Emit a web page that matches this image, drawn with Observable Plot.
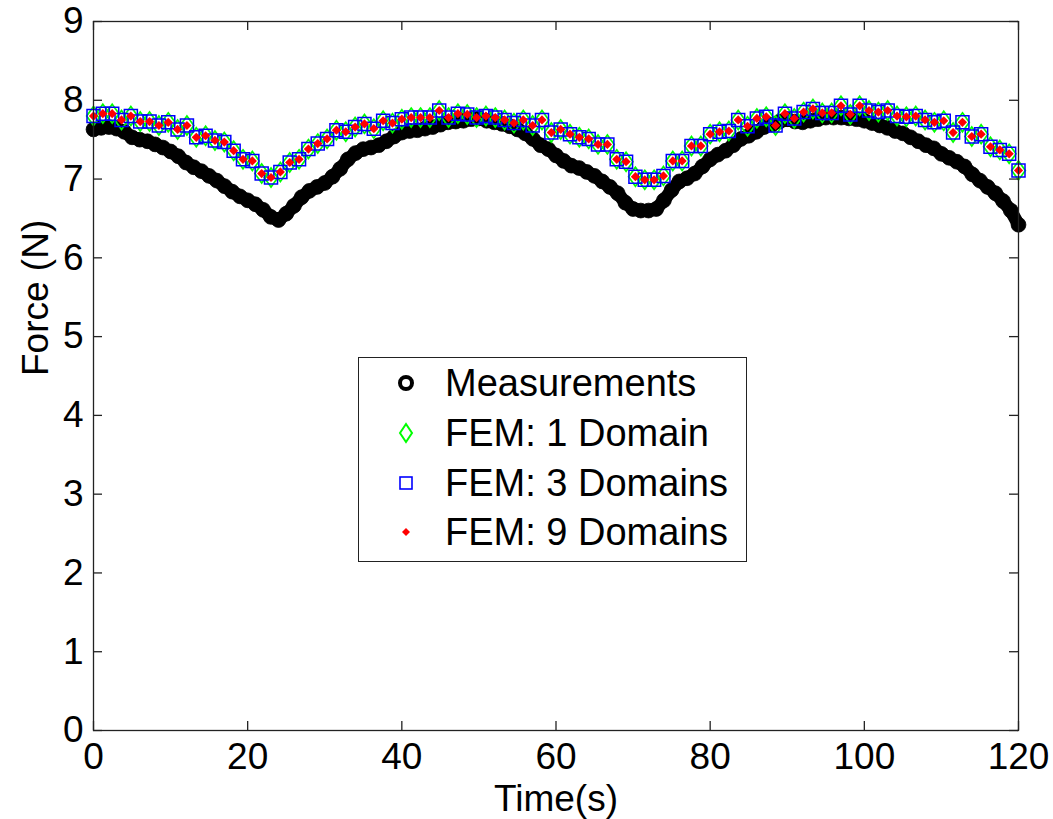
<!DOCTYPE html>
<html>
<head>
<meta charset="utf-8">
<script src="https://cdn.jsdelivr.net/npm/d3@7"></script>
<script src="https://cdn.jsdelivr.net/npm/@observablehq/plot@0.6"></script>
<style>
  html, body { margin: 0; padding: 0; background: #fff; }
  #wrap { position: relative; width: 1053px; height: 819px; font-family: "Liberation Sans", Arial, sans-serif; }
  #legend { position: absolute; left: 358px; top: 357px; width: 389px; height: 205px; box-sizing: border-box;
            border: 1.3px solid #222; background: #fff; }
  .row { position: absolute; left: 0; height: 44px; line-height: 44px; font-size: 38px; color: #000; white-space: nowrap; }
  .row svg { position: absolute; left: 32px; top: 7px; }
  .row span { position: absolute; left: 86px; top: 0; }
</style>
</head>
<body>
<div id="wrap"><div id="chart"></div><div id="legend"></div></div>
<script>
// ---- data ----
const xTicks = [0, 20, 40, 60, 80, 100, 120];
const yTicks = [0, 1, 2, 3, 4, 5, 6, 7, 8, 9];

// Measurements, one reading per second, t = 0..120 s
const measTime = d3.range(0, 121);
const measForce = [
  7.63, 7.65, 7.66, 7.64, 7.60, 7.53, 7.50, 7.48, 7.44, 7.40,
  7.35, 7.29, 7.21, 7.15, 7.10, 7.04, 6.98, 6.91, 6.84, 6.78,
  6.73, 6.68, 6.61, 6.52, 6.48, 6.56, 6.66, 6.77, 6.85, 6.90,
  6.95, 7.03, 7.13, 7.25, 7.33, 7.38, 7.40, 7.43, 7.48, 7.54,
  7.59, 7.61, 7.62, 7.64, 7.66, 7.69, 7.72, 7.73, 7.74, 7.76,
  7.77, 7.74, 7.72, 7.70, 7.67, 7.63, 7.58, 7.51, 7.43, 7.38,
  7.30, 7.23, 7.17, 7.14, 7.09, 7.04, 6.97, 6.90, 6.82, 6.70,
  6.62, 6.60, 6.60, 6.62, 6.73, 6.86, 6.97, 7.01, 7.07, 7.16,
  7.25, 7.31, 7.36, 7.43, 7.51, 7.55, 7.60, 7.66, 7.69, 7.73,
  7.76, 7.73, 7.72, 7.74, 7.76, 7.78, 7.78, 7.78, 7.77, 7.76,
  7.74, 7.71, 7.68, 7.65, 7.61, 7.58, 7.53, 7.48, 7.43, 7.39,
  7.32, 7.27, 7.22, 7.16, 7.06, 6.98, 6.90, 6.82, 6.72, 6.60,
  6.42
];

// FEM results: 100 samples spread over 0..120 s
const femCount = 100;
const femTime = d3.range(femCount).map(i => i * 120 / (femCount - 1));
const femForce1 = [
  7.80, 7.83, 7.83, 7.75, 7.80, 7.73, 7.73, 7.68, 7.72, 7.63,
  7.68, 7.53, 7.55, 7.49, 7.47, 7.36, 7.25, 7.23, 7.07, 7.02,
  7.09, 7.21, 7.25, 7.38, 7.45, 7.51, 7.62, 7.60, 7.66, 7.70,
  7.64, 7.74, 7.71, 7.76, 7.78, 7.78, 7.78, 7.87, 7.78, 7.83,
  7.82, 7.78, 7.80, 7.78, 7.75, 7.71, 7.75, 7.68, 7.75, 7.59,
  7.63, 7.57, 7.53, 7.51, 7.44, 7.44, 7.25, 7.22, 7.03, 6.99,
  6.99, 7.04, 7.23, 7.23, 7.42, 7.42, 7.57, 7.60, 7.61, 7.75,
  7.67, 7.77, 7.79, 7.68, 7.83, 7.77, 7.85, 7.89, 7.84, 7.84,
  7.93, 7.82, 7.93, 7.87, 7.85, 7.87, 7.80, 7.79, 7.80, 7.75,
  7.72, 7.74, 7.59, 7.72, 7.54, 7.57, 7.41, 7.37, 7.32, 7.11
];
const femForce3 = femForce1.slice();
const femForce9 = femForce1.slice();

const seriesNames = ["Measurements", "FEM: 1 Domain", "FEM: 3 Domains", "FEM: 9 Domains"];
const seriesColors = ["#000000", "#00ff00", "#0000ff", "#ff0000"];

// ---- tables ----
const meas = measTime.map((t, i) => ({t, f: measForce[i]}));
const fem1 = femTime.map((t, i) => ({t, f: femForce1[i]}));
const fem3 = femTime.map((t, i) => ({t, f: femForce3[i]}));
const fem9 = femTime.map((t, i) => ({t, f: femForce9[i]}));

// custom symbols (size = PI r^2)
const tallDiamond = {draw(ctx, size) {
  const r = Math.sqrt(size / Math.PI);
  ctx.moveTo(0, -r); ctx.lineTo(0.72 * r, 0); ctx.lineTo(0, r); ctx.lineTo(-0.72 * r, 0); ctx.closePath();
}};
const squareSym = {draw(ctx, size) {
  const r = Math.sqrt(size / Math.PI);
  ctx.rect(-r, -r, 2 * r, 2 * r);
}};
const smallDiamond = {draw(ctx, size) {
  const r = Math.sqrt(size / Math.PI);
  ctx.moveTo(0, -r); ctx.lineTo(r, 0); ctx.lineTo(0, r); ctx.lineTo(-r, 0); ctx.closePath();
}};

const W = 1053, H = 819, mL = 93, mR = 35, mT = 21, mB = 89;
const pw = W - mL - mR, ph = H - mT - mB, tk = 9;

const chart = Plot.plot({
  width: W, height: H,
  marginLeft: mL, marginRight: mR, marginTop: mT, marginBottom: mB,
  x: {domain: [0, 120]},
  y: {domain: [0, 9]},
  style: {fontFamily: "'Liberation Sans', Arial, sans-serif", background: "#fff", color: "#000"},
  marks: [
    Plot.line(meas, {x: "t", y: "f", stroke: seriesColors[0], strokeWidth: 13, strokeLinejoin: "round", strokeLinecap: "round"}),
    Plot.dot(meas, {x: "t", y: "f", r: 7.4, fill: seriesColors[0], stroke: seriesColors[0], strokeWidth: 0.8}),
    Plot.dot(fem1, {x: "t", y: "f", symbol: tallDiamond, r: 9.5, stroke: seriesColors[1], strokeWidth: 1.7, fill: "none"}),
    Plot.dot(fem3, {x: "t", y: "f", symbol: squareSym, r: 6.5, stroke: seriesColors[2], strokeWidth: 1.5, fill: "none"}),
    Plot.dot(fem9, {x: "t", y: "f", symbol: smallDiamond, r: 4.6, fill: seriesColors[3], stroke: "none"}),
    Plot.frame({stroke: "#222", strokeWidth: 1.3}),
    Plot.ruleX(xTicks, {x: d => d, insetTop: ph - tk, stroke: "#222", strokeWidth: 1.3}),
    Plot.ruleX(xTicks, {x: d => d, insetBottom: ph - tk, stroke: "#222", strokeWidth: 1.3}),
    Plot.ruleY(yTicks, {y: d => d, insetRight: pw - tk, stroke: "#222", strokeWidth: 1.3}),
    Plot.ruleY(yTicks, {y: d => d, insetLeft: pw - tk, stroke: "#222", strokeWidth: 1.3}),
    Plot.axisX({ticks: xTicks, tickSize: 0, tickPadding: 12, fontSize: 37, label: null}),
    Plot.axisY({ticks: yTicks, tickSize: 0, tickPadding: 10, fontSize: 37, label: null}),
    Plot.text(["Force (N)"], {text: d => d, frameAnchor: "left", rotate: -90, dx: -57, fontSize: 37}),
    Plot.text(["Time(s)"], {text: d => d, frameAnchor: "bottom", dy: 80, fontSize: 37})
  ]
});
document.getElementById("chart").appendChild(chart);

// ---- legend ----
const legend = document.getElementById("legend");
const rowCenters = [25, 75, 125, 174];
const markerSvgs = [
  `<svg width="30" height="30"><circle cx="15" cy="15" r="6" fill="none" stroke="#000" stroke-width="4"/></svg>`,
  `<svg width="30" height="30"><path d="M15,6 L21,15 L15,24 L9,15 Z" fill="none" stroke="#00ff00" stroke-width="2"/></svg>`,
  `<svg width="30" height="30"><rect x="9" y="9" width="12" height="12" fill="none" stroke="#0000ff" stroke-width="1.6"/></svg>`,
  `<svg width="30" height="30"><path d="M15,11 L19,15 L15,19 L11,15 Z" fill="#ff0000"/></svg>`
];
seriesNames.forEach((name, i) => {
  const row = document.createElement("div");
  row.className = "row";
  row.style.top = (rowCenters[i] - 22) + "px";
  row.style.width = "100%";
  row.innerHTML = markerSvgs[i] + `<span>${name}</span>`;
  legend.appendChild(row);
});
</script>
</body>
</html>
